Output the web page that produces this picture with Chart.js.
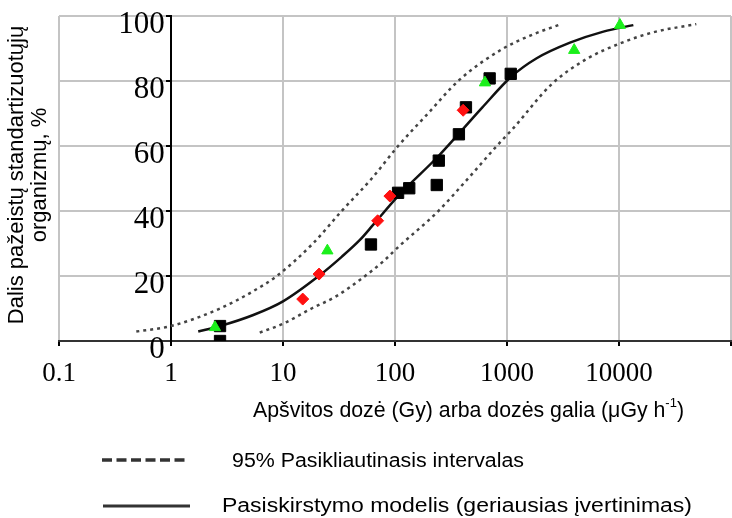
<!DOCTYPE html>
<html>
<head>
<meta charset="utf-8">
<script src="https://cdn.jsdelivr.net/npm/chart.js@4.4.1/dist/chart.umd.min.js"></script>
<style>
  body { margin: 0; background: #fff; }
  canvas { display: block; }
</style>
</head>
<body>
<canvas id="doseChart" width="732" height="518"></canvas>
<script>
// axis ticks
const xTickValues = [0.1, 1, 10, 100, 1000, 10000, 100000];
const xTickLabels = ['0.1', '1', '10', '100', '1000', '10000', ''];
const yTickLabels = ['0', '', '20', '', '40', '', '60', '', '80', '', '100'];

// best estimate (solid)
const fitDose = [1.75, 2.74, 5.43, 10, 21.4, 33.4, 48.6, 64, 106, 246, 372, 600, 1090, 1841, 3650, 7250, 13430];
const fitPct  = [2.9, 4.6, 8, 12.2, 20.3, 25.9, 31.1, 35.8, 44.5, 57, 63.8, 71.8, 81.3, 87, 91.8, 95.2, 97.2];

// 95% interval, upper and lower (dotted)
const upDose = [0.49, 1, 2.74, 5.4, 8.8, 18.5, 33.4, 62, 106.7, 197, 380, 925, 1700, 2870];
const upPct  = [2.9, 4.6, 10, 15.3, 20, 30, 40, 50, 60, 70, 80.5, 90, 94.3, 97.2];
const loDose = [6.2, 10, 18, 30, 48.6, 78.6, 110, 236, 436, 810, 1140, 2500, 5150, 10300, 20300, 49000];
const loPct  = [2.6, 5.3, 10, 13.8, 18.8, 24.5, 29.3, 39.5, 49.5, 60, 65.5, 79, 86.8, 91.6, 95, 97.5];

// measured organisms
const squareDose = [2.74, 2.74, 61, 106.5, 134, 236, 246, 372, 430, 700, 1080];
const squarePct  = [0, 4.6, 29.7, 45.6, 47, 48, 55.5, 63.6, 71.9, 80.8, 82.2];
const diamondDose = [15, 21, 70, 90, 406];
const diamondPct  = [12.9, 20.6, 37, 44.6, 71];
const triangleDose = [2.47, 24.9, 635, 3980, 10200];
const trianglePct  = [4.2, 27.8, 79.5, 89.5, 97.2];

const pts = (xs, ys) => xs.map((x, i) => ({ x: x, y: ys[i] }));

const sans = '"Liberation Sans", Arial, sans-serif';
const serif = '"Liberation Serif", "Times New Roman", serif';

// draw a line of text squeezed/stretched to a given width
function textToWidth(ctx, str, x, y, width) {
  const w = ctx.measureText(str).width;
  ctx.save();
  ctx.translate(x, y);
  ctx.scale(width / w, 1);
  ctx.fillText(str, 0, 0);
  ctx.restore();
}

// titles and legend are drawn below the plot
const extraText = {
  id: 'extraText',
  afterDraw(chart) {
    const ctx = chart.ctx;
    ctx.save();
    ctx.fillStyle = '#000';
    ctx.textBaseline = 'middle';

    // y title
    ctx.font = '22px ' + sans;
    ctx.save();
    ctx.translate(17, 175);
    ctx.rotate(-Math.PI / 2);
    ctx.textAlign = 'center';
    ctx.fillText('Dalis pažeistų standartizuotųjų', 0, 0);
    ctx.fillText('organizmų, %', 0, 23);
    ctx.restore();

    // x title with superscript
    ctx.font = '21.3px ' + sans;
    ctx.textAlign = 'left';
    let x = 253;
    const main = 'Apšvitos dozė (Gy) arba dozės galia (μGy h';
    ctx.fillText(main, x, 411);
    x += ctx.measureText(main).width;
    ctx.font = '13px ' + sans;
    ctx.fillText('-1', x, 403);
    x += ctx.measureText('-1').width;
    ctx.font = '21.3px ' + sans;
    ctx.fillText(')', x, 411);

    // legend
    ctx.strokeStyle = '#333';
    ctx.lineWidth = 3.5;
    ctx.setLineDash([10, 4.5]);
    ctx.beginPath();
    ctx.moveTo(102, 460);
    ctx.lineTo(186, 460);
    ctx.stroke();
    ctx.font = '20px ' + sans;
    textToWidth(ctx, '95% Pasikliautinasis intervalas', 232, 461, 292);

    ctx.setLineDash([]);
    ctx.lineWidth = 3;
    ctx.beginPath();
    ctx.moveTo(103, 506);
    ctx.lineTo(190, 506);
    ctx.stroke();
    textToWidth(ctx, 'Pasiskirstymo modelis (geriausias įvertinimas)', 222, 506, 470);
    ctx.restore();
  }
};

new Chart(document.getElementById('doseChart'), {
  type: 'scatter',
  data: {
    datasets: [
      {
        data: pts(triangleDose, trianglePct),
        pointStyle: 'triangle',
        pointRadius: 6.5,
        backgroundColor: '#1bef1b',
        borderColor: '#1bef1b',
        order: 0
      },
      {
        data: pts(diamondDose, diamondPct),
        pointStyle: 'rectRot',
        pointRadius: 6,
        backgroundColor: '#ff1010',
        borderColor: '#ff1010',
        order: 0
      },
      {
        data: pts(squareDose, squarePct),
        pointStyle: 'rect',
        pointRadius: 8,
        backgroundColor: '#000',
        borderColor: '#000',
        clip: 0,
        order: 1
      },
      {
        data: pts(fitDose, fitPct),
        showLine: true,
        cubicInterpolationMode: 'monotone',
        pointRadius: 0,
        borderColor: '#111',
        borderWidth: 2.5,
        order: 2
      },
      {
        data: pts(upDose, upPct),
        showLine: true,
        cubicInterpolationMode: 'monotone',
        pointRadius: 0,
        borderColor: '#444',
        borderWidth: 2.5,
        borderDash: [3, 4],
        order: 2
      },
      {
        data: pts(loDose, loPct),
        showLine: true,
        cubicInterpolationMode: 'monotone',
        pointRadius: 0,
        borderColor: '#444',
        borderWidth: 2.5,
        borderDash: [3, 4],
        order: 2
      }
    ]
  },
  options: {
    responsive: false,
    animation: false,
    devicePixelRatio: 1,
    layout: { autoPadding: false, padding: { top: 16, left: 59, right: 1, bottom: 0 } },
    plugins: {
      legend: { display: false },
      tooltip: { enabled: false }
    },
    scales: {
      x: {
        type: 'logarithmic',
        min: 0.1,
        max: 100000,
        afterBuildTicks: (scale) => {
          scale.ticks = xTickValues.map(v => ({ value: v }));
        },
        afterFit: (scale) => {
          scale.height = 177;
          scale.paddingLeft = 0;
          scale.paddingRight = 0;
        },
        grid: { color: '#c4c4c4', lineWidth: 2, tickLength: 5, tickColor: '#000' },
        border: { color: '#333', width: 2 },
        ticks: {
          autoSkip: false,
          maxRotation: 0,
          padding: 12,
          color: '#000',
          font: { family: serif, size: 27 },
          callback: (v, i) => xTickLabels[i]
        }
      },
      y: {
        position: { x: 1 },
        min: 0,
        max: 100,
        afterFit: (scale) => {
          scale.paddingTop = 0;
          scale.paddingBottom = 0;
        },
        grid: { color: '#c4c4c4', lineWidth: 2, tickLength: 4, tickColor: '#000' },
        border: { color: '#000', width: 2 },
        ticks: {
          stepSize: 10,
          labelOffset: 9,
          color: '#000',
          font: { family: serif, size: 31 },
          // thin space keeps the numbers clear of the axis line
          callback: (v, i) => yTickLabels[i] ? yTickLabels[i] + '\u2009' : ''
        }
      }
    }
  },
  plugins: [extraText]
});
</script>
</body>
</html>
